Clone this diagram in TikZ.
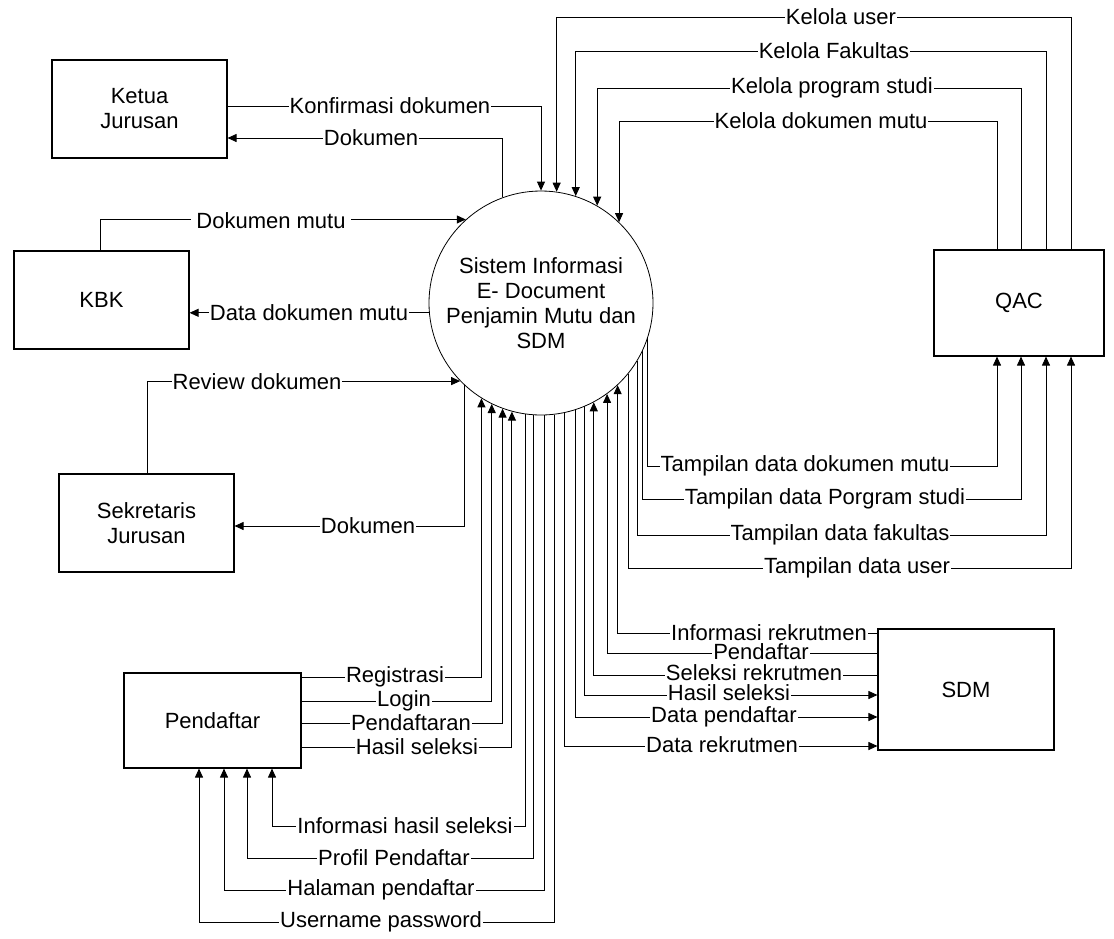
\documentclass[tikz,border=0pt]{standalone}
\usepackage{fontspec}
\setmainfont{Liberation Sans}
\usetikzlibrary{arrows.meta}
\begin{document}
\begin{tikzpicture}[x=1pt,y=-1pt,
  every node/.style={font=\fontsize{22}{25}\selectfont},
  entity/.style={draw, line width=1.1pt, minimum width=175pt, minimum height=98pt, align=center, inner sep=0pt},
  proc/.style={draw, circle, line width=0.8pt, minimum size=224pt, inner sep=0pt, align=center},
  flow/.style={draw, line width=0.9pt},
  arr/.style={flow, -{Triangle[length=9pt,width=8pt]}},
  lbl/.style={fill=white, inner sep=0pt, inner xsep=1pt}]
\useasboundingbox (0,0) rectangle (1114,938);

% external entities and the process
\node[entity] (ketua) at (139.5,109) {Ketua\\Jurusan};
\node[entity] (kbk) at (101.5,300) {KBK};
\node[entity] (sek) at (146.5,523) {Sekretaris\\Jurusan};
\node[entity, minimum width=177pt, minimum height=95pt] (pend) at (212.5,720.5) {Pendaftar};
\node[entity, minimum width=170pt, minimum height=106pt] (qac) at (1019,303) {QAC};
\node[entity, minimum width=176pt, minimum height=121pt] (sdm) at (966,689.5) {SDM};
\node[proc] (sys) at (541,303) {Sistem Informasi\\E- Document\\Penjamin Mutu dan\\SDM};

% Ketua Jurusan
\draw[arr] (ketua.east |- 0,106) -| (sys.90.5);
\draw[arr] (sys.110.9) |- (ketua.east |- 0,138);

% QAC, top side
\draw[arr] (qac.north -| 1071,0) -- (1071,17) -| (sys.82.8);
\draw[arr] (qac.north -| 1046,0) -- (1046,51) -| (sys.72.3);
\draw[arr] (qac.north -| 1021,0) -- (1021,88) -| (sys.60.6);
\draw[arr] (qac.north -| 997,0) -- (997,121) -| (sys.46.6);

% KBK
\draw[arr] (kbk.north -| 100,0) |- (sys.132.9);
\draw[arr] (sys.185.1) -- (kbk.east |- sys.185.1);

% Sekretaris Jurusan
\draw[arr] (sek.north -| 147,0) |- (sys.224.9);
\draw[arr] (sys.227.9) |- (sek.east |- 0,526);

% Pendaftar to the process
\draw[arr] (pend.east |- 0,677) -| (sys.238.2);
\draw[arr] (pend.east |- 0,701) -| (sys.244.6);
\draw[arr] (pend.east |- 0,723) -| (sys.250.2);
\draw[arr] (pend.east |- 0,747) -| (sys.255.5);

% process to Pendaftar
\draw[arr] (sys.262.3) |- (272,826) -- (pend.south -| 272,0);
\draw[arr] (sys.266.9) |- (247,858) -- (pend.south -| 247,0);
\draw[arr] (sys.272.0) |- (224,890) -- (pend.south -| 224,0);
\draw[arr] (sys.277.7) |- (199,922) -- (pend.south -| 199,0);

% SDM
\draw[arr] (sys.282.9) |- (sdm.west |- 0,746);
\draw[arr] (sys.288.2) |- (sdm.west |- 0,717);
\draw[arr] (sys.293.1) |- (sdm.west |- 0,695);
\draw[arr] (sdm.west |- 0,675) -| (sys.298.8);
\draw[arr] (sdm.west |- 0,653) -| (sys.306.1);
\draw[arr] (sdm.west |- 0,633) -| (sys.313.4);

% QAC, bottom side
\draw[arr] (sys.321.8) |- (1071,568) -- (qac.south -| 1071,0);
\draw[arr] (sys.329.0) |- (1046,535) -- (qac.south -| 1046,0);
\draw[arr] (sys.335.6) |- (1021,499) -- (qac.south -| 1021,0);
\draw[arr] (sys.342.8) |- (997,466) -- (qac.south -| 997,0);

% flow labels
\node[lbl] (t1) at (390,106) {Konfirmasi dokumen};
\node[lbl] (t2) at (371,138) {Dokumen};
\node[lbl] (t3) at (841,17) {Kelola user};
\node[lbl] (t4) at (834,51) {Kelola Fakultas};
\node[lbl] (t5) at (832,88) {Kelola program studi};
\node[lbl] (t6) at (821,121) {Kelola dokumen mutu};
\node[lbl, inner xsep=5pt] (t7) at (271,221) {Dokumen mutu};
\node[lbl] (t8) at (309,313) {Data dokumen mutu};
\node[lbl] (t9) at (257,382) {Review dokumen};
\node[lbl] (t10) at (368,526) {Dokumen};
\node[lbl] (t11) at (395,677) {Registrasi};
\node[lbl] (t12) at (404,701) {Login};
\node[lbl] (t13) at (411,723) {Pendaftaran};
\node[lbl] (t14) at (417,747) {Hasil seleksi};
\node[lbl] (t15) at (405,826) {Informasi hasil seleksi};
\node[lbl] (t16) at (394,858) {Profil Pendaftar};
\node[lbl] (t17) at (381,890) {Halaman pendaftar};
\node[lbl] (t18) at (381,922) {Username password};
\node[lbl] (t19) at (769,633) {Informasi rekrutmen};
\node[lbl] (t20) at (761,652) {Pendaftar};
\node[lbl] (t21) at (754,673) {Seleksi rekrutmen};
\node[lbl] (t22) at (729,693) {Hasil seleksi};
\node[lbl] (t23) at (724,717) {Data pendaftar};
\node[lbl] (t24) at (722,745) {Data rekrutmen};
\node[lbl] (t25) at (805,466) {Tampilan data dokumen mutu};
\node[lbl] (t26) at (825,499) {Tampilan data Porgram studi};
\node[lbl] (t27) at (840,535) {Tampilan data fakultas};
\node[lbl] (t28) at (857,568) {Tampilan data user};
\end{tikzpicture}
\end{document}
